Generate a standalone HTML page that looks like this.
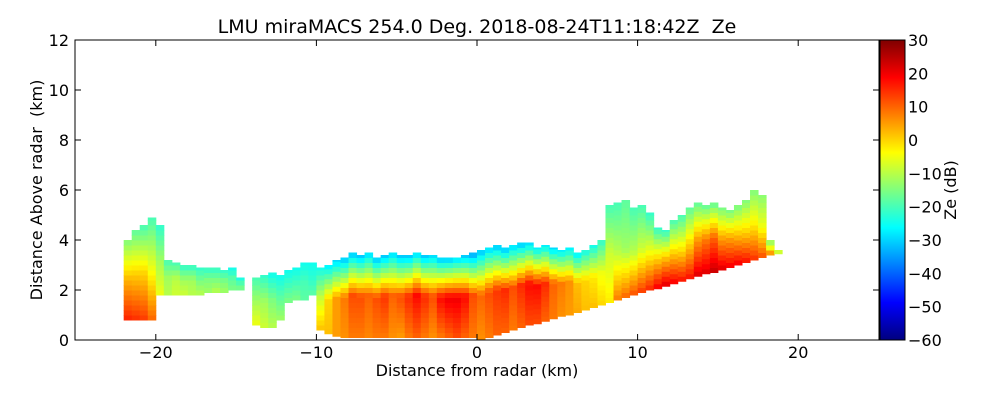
<!DOCTYPE html>
<html><head><meta charset="utf-8"><style>
body{margin:0;background:#fff;}
svg text{font-family:"DejaVu Sans","Liberation Sans",sans-serif;}
</style></head><body>
<svg id="chart" width="1000" height="400" xmlns="http://www.w3.org/2000/svg">
<defs>
<linearGradient id="jet" x1="0" y1="1" x2="0" y2="0">
<stop offset="0" stop-color="#00007f"/><stop offset="0.125" stop-color="#0000ff"/>
<stop offset="0.375" stop-color="#00ffff"/><stop offset="0.5" stop-color="#7fff7f"/>
<stop offset="0.625" stop-color="#ffff00"/><stop offset="0.875" stop-color="#ff0000"/>
<stop offset="1" stop-color="#7f0000"/>
</linearGradient>
</defs>
<text x="477" y="33" font-size="19" text-anchor="middle" xml:space="preserve" style="white-space:pre">LMU miraMACS 254.0 Deg. 2018-08-24T11:18:42Z  Ze</text>
<g id="cells"></g>
<rect x="75" y="40" width="804" height="300" fill="none" stroke="#000" stroke-width="1"/>
<g id="axes"></g>
<rect x="880" y="40" width="25" height="300" fill="url(#jet)" stroke="#000"/>
<text x="477" y="376" font-size="16" text-anchor="middle">Distance from radar (km)</text>
<text transform="translate(42,190) rotate(-90)" font-size="16" text-anchor="middle" xml:space="preserve" style="white-space:pre">Distance Above radar  (km)</text>
<text transform="translate(956,190) rotate(-90)" font-size="16" text-anchor="middle">Ze (dB)</text>
</svg>
<script>
const xTicks=[-20,-10,0,10,20];
const yTicks=[0,2,4,6,8,10,12];
const cbTicks=[30,20,10,0,-10,-20,-30,-40,-50,-60];
// columns: x start (km), bottom height, top height, Ze low, Ze mid, Ze top
const colX=[-22,-21.5,-21,-20.5,-20,-19.5,-19,-18.5,-18,-17.5,-17,-16.5,-16,-15.5,-15,-14,-13.5,-13,-12.5,-12,-11.5,-11,-10.5,-10,-9.5,-9,-8.5,-8,-7.5,-7,-6.5,-6,-5.5,-5,-4.5,-4,-3.5,-3,-2.5,-2,-1.5,-1,-0.5,0,0.5,1,1.5,2,2.5,3,3.5,4,4.5,5,5.5,6,6.5,7,7.5,8,8.5,9,9.5,10,10.5,11,11.5,12,12.5,13,13.5,14,14.5,15,15.5,16,16.5,17,17.5,18,18.5];
const colBot=[0.8,0.8,0.8,0.8,1.8,1.8,1.8,1.8,1.8,1.8,1.9,1.9,1.9,2.0,2.0,0.6,0.5,0.5,0.8,1.5,1.6,1.6,1.8,0.4,0.25,0.15,0.1,0.1,0.1,0.1,0.1,0.1,0.1,0.1,0.1,0.1,0.1,0.1,0.1,0.1,0.1,0.1,0.1,0.0,0.1,0.2,0.3,0.4,0.5,0.6,0.65,0.75,0.85,0.95,1.0,1.1,1.2,1.3,1.4,1.5,1.6,1.7,1.8,1.9,2.0,2.05,2.15,2.25,2.35,2.45,2.55,2.65,2.7,2.8,2.9,3.0,3.1,3.2,3.3,3.4,3.45];
const colTop=[4.0,4.4,4.6,4.9,4.6,3.2,3.1,3.0,3.0,2.9,2.9,2.9,2.8,2.9,2.5,2.5,2.6,2.7,2.6,2.8,2.9,3.1,3.1,2.9,3.0,3.2,3.3,3.5,3.4,3.5,3.3,3.4,3.5,3.4,3.4,3.5,3.4,3.4,3.3,3.3,3.3,3.4,3.5,3.6,3.7,3.8,3.7,3.8,3.9,3.9,3.7,3.8,3.7,3.6,3.7,3.5,3.6,3.8,4.0,5.4,5.5,5.6,5.3,5.4,5.1,4.5,4.4,4.8,5.0,5.3,5.5,5.4,5.5,5.3,5.2,5.4,5.6,6.0,5.8,4.0,3.6];
const colLow=[16,15,14,10,-5,-10,-8,-8,-10,-10,-12,-10,-12,-15,-15,-5,-8,-10,-12,-15,-15,-18,-18,2,2,5,6,8,8,7,8,8,6,5,8,10,8,6,8,10,12,10,8,6,8,10,10,8,10,12,12,10,8,6,5,4,2,2,0,-2,8,10,12,14,16,20,22,20,18,18,22,22,24,22,20,20,18,15,12,10,8];
const colMid=[3,1,0,-5,-12,-12,-10,-12,-12,-15,-15,-15,-15,-18,-18,-12,-12,-15,-18,-20,-20,-20,-22,-8,0,5,8,12,12,10,12,14,10,12,15,18,15,12,18,20,20,18,12,10,12,14,15,12,15,18,18,15,10,8,6,2,0,-2,-5,-8,-10,-12,-10,-8,-5,0,2,0,-2,0,5,8,10,5,5,2,0,-2,-5,-5,-8];
const colHi=[-15,-18,-20,-20,-22,-20,-20,-22,-22,-22,-22,-22,-22,-25,-25,-20,-22,-25,-25,-25,-25,-25,-25,-25,-28,-30,-32,-32,-32,-30,-32,-32,-30,-32,-32,-30,-32,-30,-32,-32,-30,-32,-35,-32,-30,-32,-32,-30,-32,-30,-28,-28,-30,-28,-28,-28,-25,-25,-22,-20,-20,-18,-20,-20,-22,-22,-22,-20,-20,-18,-18,-18,-18,-16,-16,-16,-15,-15,-14,-15,-18];
const X=v=>477+v*16.06, Y=v=>340-v*25;
const cbY=v=>40+(30-v)/90*300;
function jet(v){let t=(v+60)/90;t=Math.max(0,Math.min(1,t));
 const s=[[0,0,0,127],[0.125,0,0,255],[0.375,0,255,255],[0.5,127,255,127],[0.625,255,255,0],[0.875,255,0,0],[1,127,0,0]];
 for(let i=1;i<s.length;i++){if(t<=s[i][0]){const a=s[i-1],b=s[i],f=(t-a[0])/(b[0]-a[0]);
  return `rgb(${Math.round(a[1]+f*(b[1]-a[1]))},${Math.round(a[2]+f*(b[2]-a[2]))},${Math.round(a[3]+f*(b[3]-a[3]))})`;}}return "#7f0000";}
const NS="http://www.w3.org/2000/svg";
const cells=document.getElementById('cells');
const dh=0.2;
colX.forEach((x,i)=>{
 const b=colBot[i],tp=colTop[i];
 for(let h=b;h<tp;h+=dh){
  const h2=Math.min(tp,h+dh);const f=((h+h2)/2-b)/(tp-b);
  const v=f<0.5?colLow[i]+(colMid[i]-colLow[i])*f*2:colMid[i]+(colHi[i]-colMid[i])*(f-0.5)*2;
  const r=document.createElementNS(NS,'rect');
  r.setAttribute('x',X(x));r.setAttribute('width',X(x+0.5)-X(x)+0.5);
  r.setAttribute('y',Y(h2));r.setAttribute('height',Y(h)-Y(h2)+0.5);
  r.setAttribute('fill',jet(v));
  
  
  cells.appendChild(r);
 }
});
const ax=document.getElementById('axes');
function add(tag,attrs,txt){const e=document.createElementNS(NS,tag);for(const k in attrs)e.setAttribute(k,attrs[k]);if(txt!==undefined)e.textContent=txt;ax.appendChild(e);return e;}
xTicks.forEach(t=>{
 add('line',{x1:X(t),x2:X(t),y1:340,y2:334,stroke:'#000'});
 add('line',{x1:X(t),x2:X(t),y1:40,y2:46,stroke:'#000'});
 const e=add('text',{x:X(t),y:358,'font-size':16,'text-anchor':'middle'},t<0?'\u2212'+(-t):String(t));
 
 
});
yTicks.forEach(t=>{
 add('line',{x1:75,x2:81,y1:Y(t),y2:Y(t),stroke:'#000'});
 add('line',{x1:879,x2:873,y1:Y(t),y2:Y(t),stroke:'#000'});
 const e=add('text',{x:69,y:Y(t)+6,'font-size':16,'text-anchor':'end'},String(t));
 
 
});
cbTicks.forEach(t=>{
 add('line',{x1:905,x2:900,y1:cbY(t),y2:cbY(t),stroke:'#000'});
 const e=add('text',{x:908,y:cbY(t)+6,'font-size':16},t<0?'\u2212'+(-t):String(t));
 
 
});
</script>
</body></html>
